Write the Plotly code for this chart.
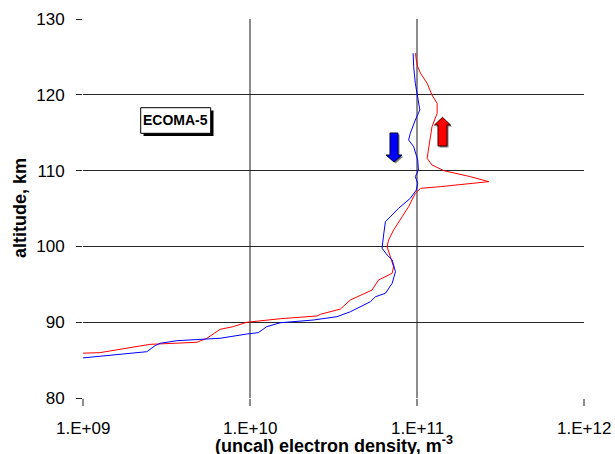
import math
import plotly.graph_objects as go

# ---------------- data ----------------
red_alt_km = [85.90, 85.98, 87.08, 87.35, 87.88, 89.06, 89.41, 89.99, 90.46, 90.82,
              91.04, 91.74, 92.93, 93.15, 94.25, 95.57, 96.45, 97.32, 98.64, 99.96,
              100.84, 102.16, 103.92, 105.24, 107.00, 107.66, 107.88, 108.54, 109.20, 109.99,
              110.74, 111.62, 112.72, 114.04, 115.79, 117.56, 118.88, 119.97, 121.52, 122.84,
              123.71, 124.59, 125.48]
red_density = [0.95e9, 1.26e9, 2.52e9, 4.81e9, 5.52e9, 6.62e9, 7.93e9, 9.57e9, 1.52e10, 2.52e10,
               2.64e10, 3.48e10, 3.99e10, 4.18e10, 5.38e10, 5.89e10, 7.10e10, 7.24e10, 6.93e10, 6.62e10,
               6.76e10, 7.24e10, 8.15e10, 8.91e10, 9.77e10, 1.05e11, 1.38e11, 2.69e11, 2.09e11, 1.45e11,
               1.23e11, 1.15e11, 1.17e11, 1.20e11, 1.23e11, 1.32e11, 1.32e11, 1.23e11, 1.15e11, 1.05e11,
               1.01e11, 0.99e11, 0.98e11]

blue_alt_km = [125.48, 123.71, 121.52, 119.31, 118.00, 116.68, 114.92, 114.04, 113.15, 111.40,
               110.08, 109.20, 108.32, 107.44, 106.35, 105.03, 103.26, 101.50, 99.75, 98.87,
               98.21, 96.66, 95.13, 93.81, 93.36, 92.70, 91.38, 90.73, 90.29, 89.93,
               89.41, 88.62, 88.44, 87.88, 87.74, 87.56, 87.22, 86.90, 86.11, 85.67, 85.24]
blue_density = [9.48e10, 9.55e10, 9.77e10, 1.01e11, 1.04e11, 9.77e10, 9.12e10, 8.91e10, 9.55e10, 1.01e11,
                1.02e11, 9.77e10, 1.01e11, 9.91e10, 9.12e10, 7.76e10, 6.47e10, 6.31e10, 6.18e10, 6.62e10,
                7.10e10, 7.43e10, 7.10e10, 6.47e10, 5.64e10, 5.26e10, 3.99e10, 3.32e10, 2.40e10, 1.52e10,
                1.26e10, 1.12e10, 9.57e9, 6.62e9, 4.58e9, 3.65e9, 2.90e9, 2.70e9, 2.41e9, 1.45e9, 0.95e9]

x_tick_vals = [1e9, 1e10, 1e11, 1e12]
x_tick_text = ["1.E+09", "1.E+10", "1.E+11", "1.E+12"]
y_tick_vals = [80, 90, 100, 110, 120, 130]

# ---------------- layout geometry (pixels) ----------------
W, H = 615, 454
L, R, T, B = 83, 31, 19, 56
PW, PH = W - L - R, H - T - B
FONT = "Liberation Sans, Arial"


def px(x):
    return (x - L) / PW


def py(y):
    return (H - B - y) / PH


fig = go.Figure()
fig.add_trace(go.Scatter(x=red_density, y=red_alt_km, mode="lines",
                         line=dict(color="#FF0000", width=1), showlegend=False))
fig.add_trace(go.Scatter(x=blue_density, y=blue_alt_km, mode="lines",
                         line=dict(color="#0000FF", width=1), showlegend=False))

shapes = []
# ECOMA-5 label box with shadow
shapes.append(dict(type="rect", xref="paper", yref="paper",
                   x0=px(143.5), x1=px(213.5), y0=py(136), y1=py(110.5),
                   fillcolor="black", line=dict(width=0)))
shapes.append(dict(type="rect", xref="paper", yref="paper",
                   x0=px(140.7), x1=px(210.7), y0=py(133.3), y1=py(107.7),
                   fillcolor="white", line=dict(color="black", width=1)))


def arrow_path(cx, y_tail, y_base, y_tip, sw, hw):
    pts = [(cx - sw, y_tail), (cx + sw, y_tail), (cx + sw, y_base), (cx + hw, y_base),
           (cx, y_tip), (cx - hw, y_base), (cx - sw, y_base)]
    return "M " + " L ".join(f"{px(a):.5f},{py(b):.5f}" for a, b in pts) + " Z"


# shadows
shapes.append(dict(type="path", xref="paper", yref="paper",
                   path=arrow_path(395.5, 134.5, 156.5, 163.5, 4, 8),
                   fillcolor="#7f7f7f", line=dict(width=0)))
shapes.append(dict(type="path", xref="paper", yref="paper",
                   path=arrow_path(444, 147.5, 126.5, 118.8, 4.5, 8),
                   fillcolor="#7f7f7f", line=dict(width=0)))
# arrows
shapes.append(dict(type="path", xref="paper", yref="paper",
                   path=arrow_path(394, 133, 155, 162, 4, 8),
                   fillcolor="#0000FF", line=dict(color="#000033", width=1)))
shapes.append(dict(type="path", xref="paper", yref="paper",
                   path=arrow_path(442.5, 146, 125, 117.3, 4.5, 8),
                   fillcolor="#FF0000", line=dict(color="#330000", width=1)))

annotations = [
    dict(text="<b>ECOMA-5</b>", xref="paper", yref="paper", x=px(175.7), y=py(120.5),
         showarrow=False, xanchor="center", yanchor="middle",
         font=dict(family=FONT, size=14, color="black")),
    dict(text="<b>altitude, km</b>", xref="paper", yref="paper", x=px(19.5), y=0.5,
         showarrow=False, xanchor="center", yanchor="middle", textangle=-90,
         font=dict(family=FONT, size=18, color="black")),
    dict(text="<b>(uncal) electron density, m<sup>-3</sup></b>", xref="paper", yref="paper",
         x=0.5, y=py(444), showarrow=False, xanchor="center", yanchor="middle",
         font=dict(family=FONT, size=18, color="black")),
]
# x tick labels placed on the log axis (annotation x uses log10 on log axes)
for v, t in zip(x_tick_vals, x_tick_text):
    annotations.append(dict(text=t, xref="x", yref="paper", x=math.log10(v), y=py(428.5),
                            showarrow=False, xanchor="center", yanchor="middle",
                            font=dict(family=FONT, size=17, color="black")))

fig.update_layout(
    width=W, height=H, autosize=False,
    margin=dict(l=L, r=R, t=T, b=B, pad=0, autoexpand=False),
    paper_bgcolor="white", plot_bgcolor="white",
    font=dict(family=FONT, size=17, color="black"),
    shapes=shapes, annotations=annotations,
    xaxis=dict(type="log", range=[9, 12], tickvals=x_tick_vals, showticklabels=False,
               showgrid=True, gridcolor="#8c8c8c", gridwidth=2,
               showline=False, zeroline=False, automargin=False,
               ticks="outside", ticklen=7, tickwidth=2, tickcolor="#8c8c8c",
               fixedrange=True),
    yaxis=dict(range=[80, 130], tickvals=y_tick_vals,
               showgrid=True, gridcolor="#262626", gridwidth=1,
               showline=False, zeroline=False, automargin=False,
               ticks="outside", ticklen=6, tickwidth=1, tickcolor="#262626",
               ticklabelstandoff=8, fixedrange=True),
)

fig.write_html("out.html")
